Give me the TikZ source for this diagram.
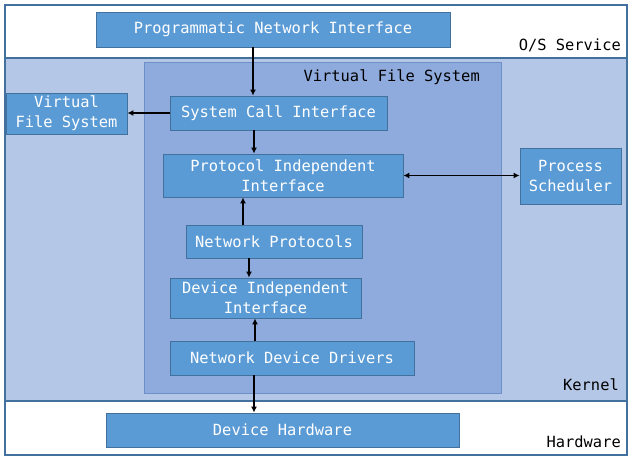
\documentclass[tikz,border=0pt]{standalone}
\usepackage{fontspec}
\setmainfont{DejaVu Sans Mono}
\usepackage{tikz}
\usetikzlibrary{positioning,arrows.meta}

\definecolor{boxblue}{HTML}{5B9BD5}
\definecolor{edgeblue}{HTML}{41719C}
\definecolor{kernelblue}{HTML}{B4C7E7}
\definecolor{vfsblue}{HTML}{8FAADC}
\definecolor{vfsedge}{HTML}{6F8FC8}

\tikzset{
  layer/.style={draw=edgeblue,line width=1.6pt},
  block/.style={draw=edgeblue,line width=0.8pt,fill=boxblue,text=white,inner sep=0pt,align=center,
    font=\fontsize{15.4}{20}\selectfont},
  tag/.style={anchor=east,inner sep=0pt,font=\fontsize{15.4}{20}\selectfont},
  arr/.style={-{Latex[length=6pt,width=6pt]},line width=1.8pt},
}

\begin{document}
\begin{tikzpicture}[x=1pt,y=-1pt]
\useasboundingbox (0,0) rectangle (633,460);
\begin{scope}
    \draw[layer,fill=white] (5,5) rectangle (627,58);
    \draw[layer,fill=kernelblue] (5,58) rectangle (627,401);
    \draw[layer,fill=white] (5,401) rectangle (627,455);
    \draw[draw=vfsedge,line width=0.8pt,fill=vfsblue] (144,62) rectangle (501,393);
\end{scope}
\node[tag] (os) at (621,45) {O/S Service};
\node[tag] (kern) at (619,385) {Kernel};
\node[tag] (hw) at (621,442) {Hardware};
\node[tag] (vfstag) at (480,77) {Virtual File System};
\begin{scope}[every node/.style={block}]
    \node[minimum width=354pt,minimum height=35pt] (pni) at (273,29.5) {Programmatic Network Interface};
    \node[minimum width=217pt,minimum height=34pt] (sci) at (278.5,113) {System Call Interface};
    \node[minimum width=121pt,minimum height=41pt] (vfs) at (66.5,113.5) {Virtual\\File System};
    \node[minimum width=240pt,minimum height=43pt] (pii) at (283,175.5) {Protocol Independent\\Interface};
    \node[minimum width=101pt,minimum height=56pt] (sched) at (570.5,176) {Process\\Scheduler};
    \node[minimum width=176pt,minimum height=33pt] (np) at (274,241.5) {Network Protocols};
    \node[minimum width=191pt,minimum height=40pt] (dii) at (265.5,298) {Device Independent\\Interface};
    \node[minimum width=244pt,minimum height=34pt] (ndd) at (292,358) {Network Device Drivers};
    \node[minimum width=353pt,minimum height=34pt] (dh) at (282.5,430) {Device Hardware};
\end{scope}
\draw[arr] (pni.south -| 253,0) -- (sci.north -| 253,0);
\draw[arr] (sci.west) -- (sci.west -| vfs.east);
\draw[arr] (sci.south -| 254,0) -- (pii.north -| 254,0);
\draw[{Latex[length=6pt,width=6pt]}-{Latex[length=6pt,width=6pt]},line width=1.8pt] (pii.east) -- (pii.east -| sched.west);
\draw[arr] (np.north -| 243,0) -- (pii.south -| 243,0);
\draw[arr] (np.south -| 249,0) -- (dii.north -| 249,0);
\draw[arr] (ndd.north -| 255,0) -- (dii.south -| 255,0);
\draw[arr] (ndd.south -| 254,0) -- (dh.north -| 254,0);
\end{tikzpicture}
\end{document}
